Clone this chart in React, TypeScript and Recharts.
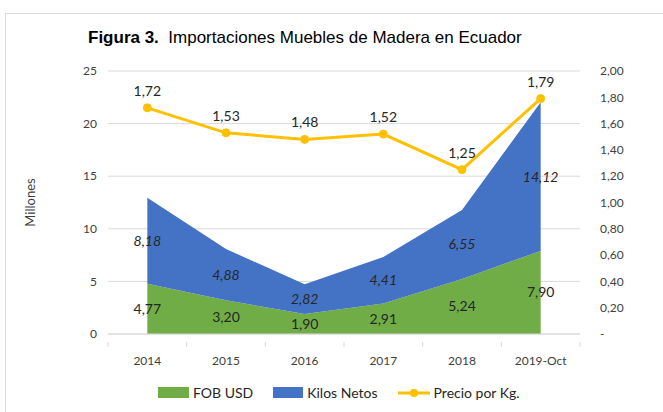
import { ComposedChart, Area, Line, XAxis, YAxis, CartesianGrid, LabelList } from 'recharts'

const years = ['2014', '2015', '2016', '2017', '2018', '2019-Oct']
const fobUsd = [4.77, 3.2, 1.9, 2.91, 5.24, 7.9]
const kilosNetos = [8.18, 4.88, 2.82, 4.41, 6.55, 14.12]
const precioKg = [1.72, 1.53, 1.48, 1.52, 1.25, 1.79]
const leftTicks = [0, 5, 10, 15, 20, 25]
const rightTicks = [0, 0.2, 0.4, 0.6, 0.8, 1.0, 1.2, 1.4, 1.6, 1.8, 2.0]

const data = years.map((year, i) => ({
  year,
  fob: fobUsd[i],
  kilos: kilosNetos[i],
  precio: precioKg[i],
  fobMid: fobUsd[i] / 2,
  kilosMid: fobUsd[i] + kilosNetos[i] / 2,
}))

const W = 663
const H = 412
const margin = { top: 71, right: 23, bottom: 48, left: 78 }
const leftW = 30
const rightW = 60
const plotW = W - margin.left - margin.right - leftW - rightW
const band = plotW / years.length

const GREEN = '#70AD47'
const BLUE = '#4472C4'
const GOLD = '#FFC000'
const FONT = 'Lato, "Open Sans", sans-serif'

const comma = (v: number) => v.toFixed(2).replace('.', ',')

function XTick(props: any) {
  const { x, y, payload, index } = props
  return (
    <g>
      <line x1={x - band / 2} x2={x - band / 2} y1={y} y2={y + 5} stroke="#d9d9d9" />
      {index === years.length - 1 && (
        <line x1={x + band / 2} x2={x + band / 2} y1={y} y2={y + 5} stroke="#d9d9d9" />
      )}
      <text x={x} y={y + 23} textAnchor="middle" fontSize={12} fill="#404040" fontFamily={FONT}>
        {payload.value}
      </text>
    </g>
  )
}

const midLabel = (italic: boolean) => (p: any) => {
  const x = p.x ?? p.viewBox?.x
  const y = p.y ?? p.viewBox?.y
  return (
    <text x={x} y={y + 5} textAnchor="middle" fontSize={14} fill="#262626"
      fontStyle={italic ? 'italic' : 'normal'} fontFamily={FONT}>
      {comma(Number(p.value))}
    </text>
  )
}

function LegendBox() {
  const item = { display: 'flex', alignItems: 'center', fontSize: 14, color: '#262626' } as const
  return (
    <div style={{ position: 'absolute', top: 384, left: 158, display: 'flex', gap: 20, fontFamily: FONT }}>
      <div style={item}>
        <span style={{ width: 31, height: 11, background: GREEN, marginRight: 4 }} />FOB USD
      </div>
      <div style={item}>
        <span style={{ width: 30, height: 11, background: BLUE, marginRight: 4 }} />Kilos Netos
      </div>
      <div style={item}>
        <svg width={32} height={12} style={{ marginRight: 4 }}>
          <line x1={0} x2={32} y1={6} y2={6} stroke={GOLD} strokeWidth={3} />
          <circle cx={16} cy={6} r={4} fill={GOLD} />
        </svg>
        Precio por Kg.
      </div>
    </div>
  )
}

export default function App() {
  return (
    <div style={{ position: 'absolute', left: 0, top: 0, width: W, height: H, overflow: 'hidden', background: '#fff' }}>
      <div style={{ position: 'absolute', left: 5, top: 13, width: 680, height: 420, border: '1px solid #d9d9d9' }} />
      <div style={{
        position: 'absolute', top: 28, left: 88, whiteSpace: 'nowrap', fontSize: 17,
        fontFamily: '"Liberation Sans", Arial, sans-serif', color: '#000',
      }}>
        <b>Figura 3.</b>&nbsp; Importaciones Muebles de Madera en Ecuador
      </div>
      <div style={{ position: 'absolute', top: 0, left: 0 }}>
        <ComposedChart width={W} height={H} data={data} margin={margin}>
          <CartesianGrid yAxisId="left" vertical={false} stroke="#d9d9d9" />
          <XAxis dataKey="year" scale="band" height={30} axisLine={{ stroke: '#d9d9d9' }}
            tickLine={false} tick={<XTick />} interval={0} />
          <YAxis yAxisId="left" width={leftW} domain={[0, 25]} ticks={leftTicks} axisLine={false}
            tickLine={false} tickSize={0} tickMargin={11}
            tick={{ fontSize: 12, fill: '#404040', fontFamily: FONT }}
            label={{ value: 'Millones', angle: -90, position: 'left', offset: 48,
              style: { fontSize: 13, fill: '#404040', fontFamily: FONT, textAnchor: 'middle' } }} />
          <YAxis yAxisId="right" orientation="right" width={rightW} domain={[0, 2]} ticks={rightTicks}
            axisLine={false} tickLine={false} tickSize={0} tickMargin={20}
            tickFormatter={(v: number) => (v === 0 ? '-' : comma(v))}
            tick={{ fontSize: 12, fill: '#404040', fontFamily: FONT, textAnchor: 'start' }} />
          <Area yAxisId="left" type="linear" dataKey="fob" stackId="s" stroke="none" fill={GREEN}
            fillOpacity={1} isAnimationActive={false} />
          <Area yAxisId="left" type="linear" dataKey="kilos" stackId="s" stroke="none" fill={BLUE}
            fillOpacity={1} isAnimationActive={false} />
          <Line yAxisId="left" dataKey="fobMid" stroke="none" dot={false} activeDot={false}
            isAnimationActive={false}>
            <LabelList dataKey="fob" content={midLabel(false)} />
          </Line>
          <Line yAxisId="left" dataKey="kilosMid" stroke="none" dot={false} activeDot={false}
            isAnimationActive={false}>
            <LabelList dataKey="kilos" content={midLabel(true)} />
          </Line>
          <Line yAxisId="right" type="linear" dataKey="precio" stroke={GOLD} strokeWidth={3}
            dot={{ r: 4, fill: GOLD, stroke: GOLD, strokeWidth: 1 }} isAnimationActive={false}>
            <LabelList dataKey="precio" position="top" offset={12} formatter={(v: any) => comma(Number(v))}
              style={{ fontSize: 14, fill: '#262626', fontFamily: FONT }} />
          </Line>
        </ComposedChart>
      </div>
      <LegendBox />
    </div>
  )
}
